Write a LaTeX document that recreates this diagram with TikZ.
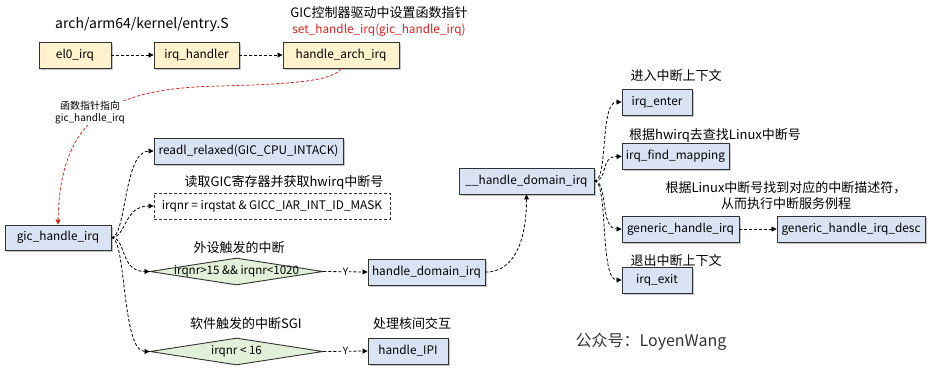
\documentclass[tikz,border=0pt]{standalone}
\usepackage{fontspec}
\setmainfont{Noto Sans CJK SC}
\usetikzlibrary{shapes.geometric,arrows.meta,shadows}
\definecolor{cY}{HTML}{FFF2CC}
\definecolor{cB}{HTML}{DAE3F3}
\definecolor{cG}{HTML}{E2F0D9}
\definecolor{cBord}{HTML}{333333}
\definecolor{cRed}{HTML}{E02020}
\tikzset{
  pbox/.style={draw=cBord, line width=0.9pt, minimum height=26pt, inner sep=0pt,
    font=\fontsize{11.8}{13}\selectfont,
    drop shadow={shadow xshift=1.5pt,shadow yshift=-1.5pt,fill=black!45,opacity=.5}},
  yb/.style={pbox, fill=cY},
  bb/.style={pbox, fill=cB},
  dashbox/.style={draw=cBord, line width=0.9pt, dash pattern=on 3pt off 2pt, minimum height=26pt, inner sep=0pt, font=\fontsize{11.8}{13}\selectfont, fill=white},
  dia/.style={diamond, draw=cBord, fill=cG, line width=0.9pt, inner sep=0pt, minimum width=173pt, minimum height=27pt},
  dtext/.style={font=\fontsize{11.6}{12}\selectfont},
  lbl/.style={font=\fontsize{13}{15}\selectfont, inner sep=0pt},
  conn/.style={draw=black, line width=0.8pt, dash pattern=on 3pt off 2pt, -{Triangle[length=5pt,width=5pt]}},
  ylab/.style={fill=white, inner sep=0.5pt, font=\fontsize{10}{11}\selectfont},
}
\begin{document}
\begin{tikzpicture}[x=1pt,y=-1pt]
\useasboundingbox (0,0) rectangle (931,372);
% top row
\node[yb, minimum width=72pt] (el0) at (75,55) {el0\_irq};
\node[yb, minimum width=85pt] (irqh) at (196.5,55) {irq\_handler};
\node[yb, minimum width=116pt] (hai) at (341,55) {handle\_arch\_irq};
\node[lbl, font=\fontsize{14}{16}\selectfont] (entry) at (142,25) {arch/arm64/kernel/entry.S};
\node[lbl] (gicset) at (379,13) {GIC控制器驱动中设置函数指针};
\node[lbl, text=cRed, font=\fontsize{11.8}{13}\selectfont] (sethi) at (379,30) {set\_handle\_irq(gic\_handle\_irq)};
% left column
\node[bb, minimum width=106pt, minimum height=25pt] (gic) at (58,237.5) {gic\_handle\_irq};
\node[bb, minimum width=189pt] (readl) at (248.5,151) {readl\_relaxed(GIC\_CPU\_INTACK)};
\node[dashbox, minimum width=236pt] (irqnr) at (272,206) {irqnr = irqstat \& GICC\_IAR\_INT\_ID\_MASK};
\node[lbl] (readlbl) at (284,182) {读取GIC寄存器并获取hwirq中断号};
\node[dia, label={[dtext]center:irqnr>15 \&\& irqnr<1020}] (d1) at (236.5,271.5) {};
\node[dia, label={[dtext]center:irqnr < 16}] (d2) at (236.5,351.5) {};
\node[lbl] (d1lbl) at (239,248) {外设触发的中断};
\node[lbl] (d2lbl) at (246,324) {软件触发的中断SGI};
\node[bb, minimum width=117pt] (hdi) at (426.5,272) {handle\_domain\_irq};
\node[bb, minimum width=80pt] (ipi) at (408,351) {handle\_IPI};
\node[lbl] (ipilbl) at (412,324) {处理核间交互};
% right part
\node[bb, minimum width=135pt] (uhdi) at (526.5,181) {\_\_handle\_domain\_irq};
\node[bb, minimum width=70pt] (enter) at (657,102) {irq\_enter};
\node[bb, minimum width=107pt] (find) at (675.5,156.5) {irq\_find\_mapping};
\node[bb, minimum width=117pt] (gen) at (680.5,229) {generic\_handle\_irq};
\node[bb, minimum width=148pt] (gdesc) at (851,229) {generic\_handle\_irq\_desc};
\node[bb, minimum width=70pt] (exit) at (657,280) {irq\_exit};
\node[lbl] (enterlbl) at (676,76) {进入中断上下文};
\node[lbl] (findlbl) at (715,136) {根据hwirq去查找Linux中断号};
\node[lbl, align=center] (genlbl) at (786,196) {根据Linux中断号找到对应的中断描述符，\\[1pt]从而执行中断服务例程};
\node[lbl] (exitlbl) at (676,261) {退出中断上下文};
\node[lbl, font=\fontsize{16}{18}\selectfont, text=black!80] (wm) at (651,342) {公众号：LoyenWang};
% connectors
\draw[conn] (el0) -- (irqh);
\draw[conn] (irqh) -- (hai);
\draw[conn, draw=cRed, -{Triangle[length=5pt,width=5pt,fill=cRed]}] (hai.south) .. controls (334,80) and (300,84) .. (220,86) .. controls (120,88) and (60,110) .. (gic.north);
\node[fill=white, inner sep=1pt, align=center, font=\fontsize{10}{12}\selectfont] (ptr) at (90,113) {函数指针指向\\gic\_handle\_irq};
\draw[conn] (gic.east) .. controls +(15,0) and +(-30,0) .. (readl.west);
\draw[conn] (gic.east) .. controls +(15,0) and +(-30,0) .. (irqnr.west);
\draw[conn] (gic.east) .. controls +(15,0) and +(-30,0) .. (d1.west);
\draw[conn] (gic.east) .. controls +(15,0) and +(-28,0) .. (d2.west);
\draw[conn] (d1.east) -- node[ylab] {Y} (hdi.west);
\draw[conn] (d2.east) -- node[ylab] {Y} (ipi.west);
\draw[conn] (hdi.east) .. controls +(32,0) and +(0,40) .. (uhdi.south);
\draw[conn] (uhdi.east) .. controls +(14,0) and +(-22,0) .. (enter.west);
\draw[conn] (uhdi.east) .. controls +(14,0) and +(-22,0) .. (find.west);
\draw[conn] (uhdi.east) .. controls +(14,0) and +(-22,0) .. (gen.west);
\draw[conn] (uhdi.east) .. controls +(14,0) and +(-22,0) .. (exit.west);
\draw[conn] (gen) -- (gdesc);
\end{tikzpicture}
\end{document}
